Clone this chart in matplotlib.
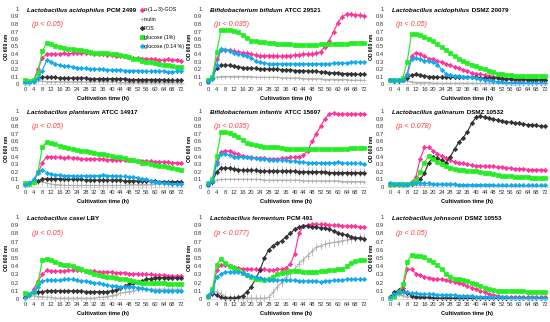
import numpy as np
import matplotlib.pyplot as plt
from matplotlib.lines import Line2D

plt.rcParams['font.family'] = ['Liberation Sans', 'DejaVu Sans']

hours = np.arange(0, 73, 2)

series_names = ['\u03b1-(1\u21923)-GOS', 'inulin', 'FOS', 'glucose (1%)', 'glucose (0.14 %)']
series_colors = ['#ff3399', '#b0b0b0', '#333333', '#22ee22', '#11aaee']
series_markers = ['D', '+', 'D', 's', 'D']

titles = [
    ('Lactobacillus acidophilus', 'PCM 2499', '(p < 0.05)'),
    ('Bifidobacterium bifidum', 'ATCC 29521', '(p < 0.035)'),
    ('Lactobacillus acidophilus', 'DSMZ 20079', '(p < 0.05)'),
    ('Lactobacillus plantarum', 'ATCC 14917', '(p < 0.05)'),
    ('Bifidobacterium infantis', 'ATCC 15697', '(p < 0.035)'),
    ('Lactobacillus galinarum', 'DSMZ 10532', '(p < 0.078)'),
    ('Lactobacillus casei', 'LBY', '(p < 0.05)'),
    ('Lactobacillus fermentum', 'PCM 491', '(p < 0.077)'),
    ('Lactobacillus johnsonii', 'DSMZ 10553', '(p < 0.05)'),
]

# panel 1: L. acidophilus PCM 2499
p1_gos = [0.03,0.03,0.05,0.20,0.35,0.40,0.40,0.40,0.40,0.41,0.40,0.41,0.41,0.42,0.41,0.41,0.40,0.40,0.40,0.39,0.39,0.38,0.38,0.37,0.36,0.35,0.35,0.34,0.34,0.33,0.33,0.32,0.32,0.33,0.32,0.32,0.31]
p1_inu = [0.02,0.02,0.03,0.04,0.04,0.03,0.03,0.03,0.03,0.03,0.03,0.03,0.03,0.03,0.03,0.03,0.03,0.03,0.03,0.03,0.03,0.03,0.02,0.02,0.02,0.02,0.02,0.02,0.02,0.02,0.02,0.02,0.02,0.02,0.02,0.02,0.02]
p1_fos = [0.03,0.03,0.05,0.08,0.09,0.09,0.09,0.09,0.08,0.08,0.08,0.08,0.08,0.08,0.08,0.07,0.07,0.07,0.07,0.07,0.07,0.07,0.07,0.07,0.06,0.06,0.06,0.06,0.06,0.06,0.06,0.06,0.06,0.05,0.05,0.05,0.05]
p1_g1 = [0.05,0.04,0.05,0.15,0.44,0.55,0.53,0.51,0.49,0.48,0.47,0.47,0.46,0.45,0.44,0.43,0.42,0.42,0.41,0.41,0.40,0.40,0.39,0.38,0.36,0.34,0.33,0.31,0.30,0.29,0.28,0.27,0.26,0.25,0.24,0.23,0.23]
p1_g014 = [0.02,0.02,0.03,0.08,0.18,0.32,0.30,0.27,0.25,0.24,0.24,0.23,0.22,0.21,0.21,0.20,0.20,0.20,0.20,0.19,0.19,0.19,0.19,0.18,0.18,0.18,0.18,0.17,0.17,0.17,0.17,0.17,0.17,0.16,0.16,0.17,0.17]

# panel 2: B. bifidum ATCC 29521
p2_gos = [0.05,0.10,0.33,0.46,0.46,0.45,0.44,0.43,0.42,0.41,0.40,0.39,0.38,0.38,0.38,0.38,0.38,0.37,0.38,0.38,0.39,0.39,0.40,0.40,0.40,0.41,0.43,0.50,0.58,0.70,0.82,0.90,0.93,0.93,0.92,0.92,0.91]
p2_inu = [0.03,0.06,0.09,0.10,0.10,0.10,0.10,0.10,0.10,0.10,0.10,0.09,0.09,0.09,0.09,0.09,0.09,0.08,0.08,0.08,0.08,0.08,0.07,0.07,0.07,0.07,0.07,0.06,0.06,0.06,0.06,0.06,0.06,0.05,0.05,0.05,0.05]
p2_fos = [0.03,0.08,0.22,0.25,0.25,0.25,0.24,0.23,0.22,0.21,0.21,0.21,0.20,0.20,0.20,0.20,0.20,0.19,0.19,0.19,0.18,0.18,0.18,0.17,0.17,0.17,0.16,0.16,0.15,0.15,0.15,0.14,0.14,0.14,0.13,0.13,0.13]
p2_g1 = [0.06,0.09,0.43,0.72,0.72,0.72,0.71,0.69,0.65,0.61,0.58,0.57,0.56,0.56,0.55,0.55,0.54,0.53,0.53,0.53,0.52,0.52,0.52,0.52,0.52,0.52,0.53,0.53,0.53,0.54,0.54,0.54,0.54,0.55,0.55,0.55,0.55]
p2_g014 = [0.04,0.07,0.25,0.47,0.46,0.44,0.42,0.40,0.39,0.38,0.35,0.31,0.29,0.28,0.27,0.27,0.27,0.27,0.27,0.27,0.27,0.27,0.27,0.27,0.27,0.27,0.27,0.27,0.27,0.28,0.28,0.28,0.28,0.29,0.29,0.29,0.29]

# panel 3: L. acidophilus DSMZ 20079
p3_gos = [0.05,0.05,0.05,0.06,0.14,0.38,0.42,0.40,0.37,0.34,0.33,0.31,0.29,0.27,0.25,0.23,0.21,0.19,0.17,0.15,0.14,0.13,0.12,0.11,0.10,0.09,0.08,0.07,0.07,0.06,0.06,0.06,0.05,0.05,0.05,0.05,0.05]
p3_inu = [0.04,0.04,0.04,0.04,0.04,0.03,0.02,0.02,0.02,0.02,0.01,0.01,0.01,0.01,0.01,0.01,0.01,0.01,0.01,0.01,0.01,0.01,0.01,0.01,0.01,0.01,0.01,0.01,0.01,0.01,0.01,0.01,0.01,0.01,0.01,0.01,0.01]
p3_fos = [0.05,0.04,0.04,0.05,0.08,0.12,0.13,0.12,0.11,0.10,0.10,0.09,0.09,0.09,0.09,0.09,0.09,0.09,0.09,0.09,0.09,0.08,0.08,0.08,0.08,0.08,0.07,0.07,0.07,0.07,0.07,0.07,0.06,0.06,0.06,0.06,0.06]
p3_g1 = [0.06,0.05,0.05,0.08,0.30,0.67,0.67,0.65,0.63,0.60,0.57,0.53,0.49,0.45,0.41,0.37,0.34,0.31,0.28,0.26,0.24,0.22,0.20,0.18,0.16,0.14,0.13,0.12,0.12,0.11,0.11,0.11,0.11,0.11,0.11,0.11,0.11]
p3_g014 = [0.06,0.05,0.05,0.05,0.12,0.33,0.35,0.33,0.31,0.31,0.29,0.26,0.19,0.14,0.12,0.11,0.11,0.10,0.10,0.09,0.08,0.07,0.06,0.05,0.04,0.03,0.03,0.02,0.02,0.02,0.02,0.02,0.01,0.01,0.01,0.01,0.01]

# panel 4: L. plantarum ATCC 14917
p4_gos = [0.04,0.05,0.08,0.18,0.32,0.40,0.40,0.39,0.39,0.38,0.39,0.38,0.38,0.37,0.37,0.37,0.37,0.37,0.37,0.36,0.36,0.36,0.35,0.35,0.35,0.35,0.34,0.34,0.34,0.34,0.33,0.33,0.33,0.33,0.32,0.32,0.32]
p4_inu = [0.04,0.05,0.06,0.07,0.07,0.05,0.04,0.03,0.03,0.02,0.02,0.02,0.02,0.02,0.02,0.02,0.02,0.02,0.02,0.02,0.02,0.02,0.02,0.02,0.03,0.03,0.03,0.03,0.03,0.03,0.04,0.04,0.04,0.04,0.04,0.04,0.04]
p4_fos = [0.04,0.05,0.06,0.08,0.10,0.11,0.11,0.11,0.11,0.10,0.10,0.10,0.10,0.10,0.09,0.09,0.09,0.09,0.09,0.09,0.09,0.09,0.09,0.08,0.08,0.08,0.08,0.08,0.08,0.08,0.08,0.07,0.07,0.07,0.07,0.07,0.07]
p4_g1 = [0.05,0.04,0.06,0.20,0.53,0.59,0.58,0.56,0.54,0.52,0.51,0.50,0.49,0.48,0.47,0.46,0.45,0.44,0.43,0.42,0.41,0.40,0.39,0.38,0.36,0.35,0.34,0.32,0.31,0.30,0.29,0.28,0.27,0.26,0.25,0.24,0.23]
p4_g014 = [0.03,0.05,0.10,0.20,0.23,0.19,0.17,0.16,0.16,0.15,0.15,0.15,0.14,0.15,0.15,0.15,0.15,0.15,0.16,0.15,0.15,0.15,0.14,0.14,0.13,0.13,0.12,0.11,0.10,0.08,0.07,0.06,0.05,0.05,0.04,0.04,0.04]

# panel 5: B. infantis ATCC 15697
p5_gos = [0.03,0.08,0.33,0.46,0.48,0.47,0.45,0.43,0.41,0.40,0.39,0.38,0.38,0.38,0.37,0.37,0.37,0.38,0.38,0.39,0.39,0.40,0.42,0.48,0.60,0.70,0.80,0.90,0.96,0.97,0.96,0.96,0.96,0.96,0.96,0.96,0.96]
p5_inu = [0.03,0.05,0.09,0.10,0.10,0.10,0.10,0.10,0.10,0.10,0.10,0.10,0.10,0.09,0.09,0.09,0.09,0.09,0.09,0.09,0.09,0.09,0.08,0.08,0.08,0.08,0.08,0.08,0.08,0.08,0.08,0.07,0.07,0.07,0.07,0.07,0.07]
p5_fos = [0.03,0.07,0.20,0.25,0.25,0.25,0.24,0.23,0.22,0.22,0.22,0.22,0.21,0.21,0.21,0.21,0.21,0.21,0.21,0.21,0.21,0.20,0.20,0.20,0.20,0.20,0.20,0.20,0.19,0.19,0.19,0.19,0.19,0.19,0.19,0.19,0.19]
p5_g1 = [0.05,0.10,0.41,0.72,0.72,0.71,0.69,0.66,0.62,0.58,0.56,0.55,0.54,0.53,0.52,0.52,0.52,0.51,0.50,0.50,0.50,0.50,0.50,0.50,0.50,0.50,0.50,0.50,0.50,0.50,0.50,0.50,0.50,0.51,0.51,0.51,0.51]
p5_g014 = [0.04,0.08,0.30,0.43,0.44,0.42,0.40,0.40,0.40,0.39,0.38,0.38,0.37,0.37,0.36,0.36,0.35,0.35,0.35,0.34,0.34,0.33,0.33,0.32,0.32,0.32,0.32,0.32,0.32,0.32,0.33,0.32,0.31,0.31,0.31,0.31,0.30]

# panel 6: L. galinarum DSMZ 10532
p6_gos = [0.03,0.03,0.03,0.03,0.04,0.06,0.13,0.37,0.52,0.52,0.48,0.44,0.41,0.38,0.35,0.33,0.32,0.31,0.30,0.29,0.28,0.28,0.27,0.27,0.27,0.26,0.26,0.25,0.25,0.24,0.24,0.24,0.23,0.23,0.23,0.23,0.22]
p6_inu = [0.02,0.02,0.02,0.02,0.02,0.02,0.02,0.02,0.02,0.02,0.02,0.02,0.02,0.02,0.02,0.02,0.01,0.01,0.01,0.01,0.01,0.01,0.01,0.01,0.01,0.01,0.01,0.01,0.01,0.01,0.01,0.01,0.01,0.01,0.01,0.01,0.01]
p6_fos = [0.02,0.02,0.02,0.02,0.03,0.04,0.06,0.10,0.18,0.32,0.39,0.38,0.35,0.32,0.40,0.50,0.59,0.65,0.73,0.84,0.92,0.93,0.92,0.91,0.89,0.88,0.87,0.86,0.85,0.84,0.84,0.83,0.82,0.82,0.81,0.80,0.80]
p6_g1 = [0.04,0.04,0.04,0.04,0.04,0.05,0.09,0.20,0.32,0.41,0.37,0.33,0.30,0.27,0.25,0.24,0.23,0.22,0.21,0.21,0.21,0.20,0.19,0.18,0.17,0.16,0.15,0.14,0.14,0.13,0.13,0.13,0.13,0.12,0.12,0.12,0.12]
p6_g014 = [0.05,0.04,0.04,0.04,0.03,0.05,0.05,0.05,0.05,0.05,0.04,0.04,0.04,0.04,0.04,0.04,0.03,0.03,0.03,0.03,0.03,0.03,0.03,0.03,0.03,0.02,0.02,0.02,0.02,0.02,0.02,0.02,0.02,0.02,0.02,0.02,0.02]

# panel 7: L. casei LBY
p7_gos = [0.01,0.05,0.12,0.22,0.30,0.35,0.34,0.34,0.34,0.34,0.35,0.35,0.35,0.35,0.34,0.34,0.34,0.33,0.33,0.33,0.33,0.32,0.32,0.32,0.31,0.31,0.31,0.30,0.30,0.30,0.29,0.29,0.29,0.28,0.28,0.28,0.28]
p7_inu = [0.02,0.04,0.04,0.03,0.03,0.02,0.02,0.01,0.01,0.01,0.01,0.01,0.01,0.01,0.01,0.01,0.01,0.02,0.02,0.03,0.04,0.05,0.07,0.08,0.09,0.10,0.11,0.12,0.12,0.12,0.12,0.12,0.12,0.12,0.12,0.12,0.12]
p7_fos = [0.02,0.05,0.08,0.09,0.09,0.10,0.10,0.10,0.10,0.10,0.10,0.10,0.10,0.10,0.09,0.09,0.09,0.09,0.09,0.09,0.10,0.11,0.13,0.16,0.18,0.20,0.21,0.22,0.24,0.25,0.26,0.26,0.26,0.26,0.26,0.26,0.26]
p7_g1 = [0.07,0.06,0.08,0.20,0.47,0.49,0.47,0.45,0.43,0.42,0.41,0.40,0.38,0.36,0.34,0.33,0.31,0.29,0.28,0.27,0.27,0.26,0.25,0.24,0.23,0.22,0.21,0.20,0.20,0.19,0.19,0.19,0.19,0.18,0.18,0.18,0.18]
p7_g014 = [0.01,0.05,0.09,0.15,0.22,0.23,0.23,0.23,0.23,0.24,0.24,0.24,0.23,0.22,0.22,0.21,0.20,0.19,0.18,0.17,0.16,0.16,0.15,0.15,0.15,0.15,0.14,0.13,0.12,0.11,0.10,0.10,0.10,0.10,0.10,0.10,0.10]

# panel 8: L. fermentum PCM 491
p8_gos = [0.03,0.06,0.35,0.42,0.41,0.40,0.39,0.38,0.37,0.37,0.36,0.36,0.36,0.36,0.35,0.35,0.36,0.36,0.38,0.43,0.55,0.80,0.89,0.90,0.91,0.91,0.91,0.91,0.90,0.90,0.90,0.89,0.89,0.89,0.89,0.88,0.88]
p8_inu = [0.04,0.08,0.09,0.06,0.03,0.02,0.02,0.01,0.01,0.01,0.01,0.01,0.01,0.01,0.02,0.08,0.15,0.20,0.27,0.31,0.37,0.43,0.48,0.53,0.58,0.63,0.65,0.67,0.68,0.69,0.70,0.71,0.72,0.73,0.74,0.75,0.75]
p8_fos = [0.03,0.07,0.05,0.02,0.01,0.01,0.01,0.02,0.04,0.09,0.15,0.25,0.35,0.50,0.60,0.65,0.68,0.71,0.76,0.80,0.85,0.88,0.89,0.89,0.88,0.88,0.87,0.86,0.85,0.83,0.81,0.79,0.78,0.76,0.75,0.74,0.73]
p8_g1 = [0.04,0.12,0.42,0.49,0.44,0.40,0.38,0.35,0.32,0.29,0.27,0.25,0.24,0.23,0.24,0.27,0.30,0.32,0.33,0.34,0.34,0.34,0.33,0.33,0.33,0.33,0.34,0.34,0.35,0.35,0.36,0.37,0.40,0.44,0.46,0.47,0.47]
p8_g014 = [0.04,0.08,0.27,0.31,0.33,0.33,0.33,0.33,0.32,0.29,0.28,0.27,0.26,0.24,0.23,0.23,0.23,0.23,0.23,0.23,0.23,0.22,0.22,0.22,0.22,0.22,0.21,0.22,0.22,0.23,0.23,0.23,0.24,0.24,0.24,0.24,0.24]

# panel 9: L. johnsonii DSMZ 10553
p9_gos = [0.01,0.02,0.07,0.14,0.36,0.36,0.31,0.29,0.27,0.26,0.25,0.24,0.24,0.23,0.22,0.21,0.20,0.18,0.16,0.14,0.12,0.10,0.08,0.06,0.05,0.04,0.03,0.03,0.02,0.02,0.02,0.02,0.02,0.02,0.02,0.02,0.02]
p9_inu = [0.01,0.04,0.05,0.04,0.03,0.02,0.01,0.01,0.01,0.01,0.01,0.01,0.01,0.01,0.01,0.01,0.01,0.01,0.01,0.01,0.01,0.01,0.01,0.01,0.01,0.01,0.01,0.01,0.01,0.01,0.01,0.01,0.01,0.01,0.01,0.01,0.01]
p9_fos = [0.02,0.08,0.11,0.10,0.07,0.04,0.03,0.02,0.02,0.02,0.01,0.01,0.01,0.01,0.01,0.01,0.01,0.01,0.01,0.01,0.01,0.01,0.01,0.01,0.01,0.01,0.01,0.01,0.01,0.01,0.01,0.01,0.01,0.01,0.01,0.01,0.01]
p9_g1 = [0.01,0.03,0.08,0.18,0.45,0.54,0.53,0.53,0.51,0.48,0.45,0.41,0.36,0.31,0.27,0.25,0.24,0.23,0.22,0.20,0.18,0.16,0.14,0.12,0.11,0.10,0.10,0.10,0.10,0.10,0.10,0.10,0.09,0.09,0.09,0.09,0.09]
p9_g014 = [0.01,0.06,0.08,0.08,0.08,0.07,0.07,0.06,0.06,0.06,0.06,0.05,0.05,0.05,0.05,0.05,0.04,0.04,0.04,0.04,0.03,0.03,0.03,0.03,0.02,0.02,0.02,0.02,0.01,0.01,0.01,0.01,0.01,0.01,0.01,0.01,0.01]

panel_data = [
    [p1_gos, p1_inu, p1_fos, p1_g1, p1_g014],
    [p2_gos, p2_inu, p2_fos, p2_g1, p2_g014],
    [p3_gos, p3_inu, p3_fos, p3_g1, p3_g014],
    [p4_gos, p4_inu, p4_fos, p4_g1, p4_g014],
    [p5_gos, p5_inu, p5_fos, p5_g1, p5_g014],
    [p6_gos, p6_inu, p6_fos, p6_g1, p6_g014],
    [p7_gos, p7_inu, p7_fos, p7_g1, p7_g014],
    [p8_gos, p8_inu, p8_fos, p8_g1, p8_g014],
    [p9_gos, p9_inu, p9_fos, p9_g1, p9_g014],
]

# typical standard deviation per series (GOS, inulin, FOS, glc 1%, glc 0.14%)
panel_sd = [
    [0.02, 0.01, 0.01, 0.03, 0.01],
    [0.05, 0.01, 0.01, 0.02, 0.02],
    [0.01, 0.01, 0.01, 0.01, 0.02],
    [0.01, 0.05, 0.03, 0.01, 0.02],
    [0.02, 0.02, 0.06, 0.01, 0.02],
    [0.02, 0.01, 0.02, 0.02, 0.01],
    [0.02, 0.03, 0.03, 0.02, 0.02],
    [0.02, 0.05, 0.03, 0.03, 0.02],
    [0.02, 0.01, 0.02, 0.02, 0.01],
]

W, H = 550, 322
fig = plt.figure(figsize=(W / 100, H / 100), dpi=100)

# pixel positions of x=0 / x=72 and y=0 / y=1 for each column / row
col_px = [(25, 181), (208, 364), (390, 545)]
row_px = [(84, 9), (187, 111), (299, 217)]
XL, XR = -1.5, 73.5

for i in range(9):
    r, c = divmod(i, 3)
    x0, x72 = col_px[c]
    yb, yt = row_px[r]
    ppu = (x72 - x0) / 72.0
    left = x0 + XL * ppu
    width = (XR - XL) * ppu
    ax = fig.add_axes([left / W, 1 - yb / H, width / W, (yb - yt) / H])
    ax.set_xlim(XL, XR)
    ax.set_ylim(0, 1)
    for k in range(5):
        y = np.array(panel_data[i][k])
        ax.errorbar(hours, y, yerr=panel_sd[i][k], color=series_colors[k],
                    marker=series_markers[k],
                    markersize=2.2 if series_markers[k] != '+' else 3.0,
                    markeredgewidth=0.5, lw=0.85, ecolor='#a0a0a0', elinewidth=0.4,
                    capsize=0, clip_on=False)
    ax.set_xticks(np.arange(0, 73, 4))
    ax.set_yticks(np.arange(0, 1.01, 0.1))
    ax.set_yticklabels(['0'] + ['%.1f' % v for v in np.arange(0.1, 0.95, 0.1)] + ['1'])
    ax.tick_params(length=0, labelsize=4.2, pad=2, colors='#333333')
    for s in ['top', 'right', 'left']:
        ax.spines[s].set_visible(False)
    ax.spines['bottom'].set_color('#d0d0d0')
    ax.spines['bottom'].set_linewidth(0.5)
    ax.set_xlabel('Cultivation time (h)', fontsize=4.1, fontweight='bold', labelpad=3)
    ax.set_ylabel('OD 600 nm', fontsize=3.6, fontweight='bold', labelpad=1.5)

    species, strain, ptxt = titles[i]
    t = ax.text(0.035, 0.985, species, transform=ax.transAxes, fontsize=4.5,
                fontweight='bold', style='italic', va='center', ha='left')
    ax.annotate(' ' + strain, xy=(1, 0), xycoords=t, fontsize=4.5,
                fontweight='bold', va='bottom', ha='left')
    ax.text(0.06, 0.80, ptxt, transform=ax.transAxes, fontsize=5.2,
            style='italic', color='#ff3b3b', va='center', ha='left')

    if i == 0:
        handles = [Line2D([], [], ls='none', marker=series_markers[k],
                          color=series_colors[k], markersize=2.2, markeredgewidth=0.6)
                   for k in range(5)]
        ax.legend(handles, series_names, loc='upper right', bbox_to_anchor=(1.02, 1.07),
                  fontsize=3.8, frameon=False, handlelength=0.4, handletextpad=0.2,
                  labelspacing=0.8, borderpad=0.2)

fig.savefig('out.png', dpi=100)
